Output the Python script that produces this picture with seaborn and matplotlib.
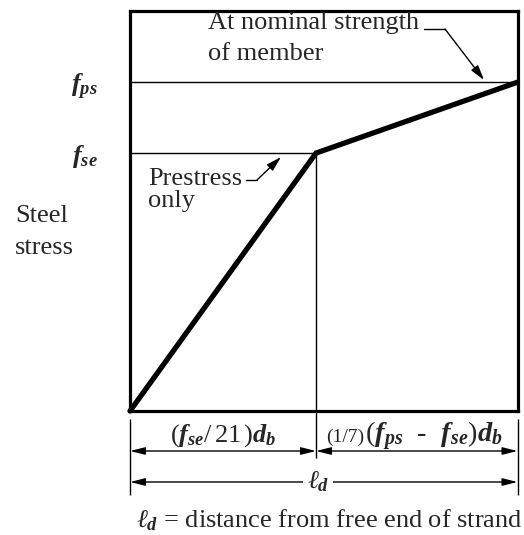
import matplotlib
matplotlib.use("Agg")
import matplotlib.pyplot as plt
import seaborn as sns
import pandas as pd

# Idealized steel stress along a pretensioned strand (fraction of development length)
stage = ["Free end", "Prestress only", "Nominal strength"]
distance = [0.0, 0.48, 1.0]
stress = [0.0, 0.644, 0.821]
stress_labels = [r"$\mathbfit{f_{se}}$", r"$\mathbfit{f_{ps}}$"]
df = pd.DataFrame({"stage": stage, "distance": distance, "stress": stress})

sns.set_style("white")
plt.rcParams["font.family"] = ["Liberation Serif", "DejaVu Serif"]
plt.rcParams["mathtext.fontset"] = "custom"
plt.rcParams["mathtext.rm"] = "Liberation Serif"
plt.rcParams["mathtext.it"] = "Liberation Serif:italic"
plt.rcParams["mathtext.bf"] = "Liberation Serif:bold"
plt.rcParams["mathtext.bfit"] = "Liberation Serif:italic:bold"
plt.rcParams["mathtext.fallback"] = "stix"

W, H = 524, 535
fig = plt.figure(figsize=(W / 100, H / 100), dpi=100)
L, R, T, B = 130, 517.5, 10.5, 411
ax = fig.add_axes([L / W, 1 - B / H, (R - L) / W, (B - T) / H])


def px(x, y):
    """Pixel position to data coordinates of the plot box."""
    return ((x - L) / (R - L), (B - y) / (B - T))


def lines(x, baselines, texts, **kw):
    """Write one text per line, each on its own baseline."""
    for yb, s in zip(baselines, texts):
        ax.text(*px(x, yb), s, fontsize=19, ha="left", va="baseline", **kw)


sns.lineplot(data=df, x="distance", y="stress", ax=ax, color="black",
             linewidth=3.8, solid_joinstyle="miter", clip_on=False, zorder=5)
ax.set_xlim(0, 1)
ax.set_ylim(0, 1)
ax.set_xlabel("")
ax.set_ylabel("")
for s in ax.spines.values():
    s.set_linewidth(2.3)
    s.set_color("black")

# stress levels as y ticks with long outward tick marks
fse, fps = stress[1], stress[2]
xb = distance[1]
ax.set_xticks([])
ax.set_yticks([fse, fps])
ax.set_yticklabels(stress_labels, fontsize=19)
ax.tick_params(axis="y", direction="out", length=15, width=1.0, pad=8, color="black")
ax.hlines(fse, 0, xb, color="black", lw=1.0, zorder=3)
ax.hlines(fps, 0, 1, color="black", lw=1.0, zorder=3)
ax.vlines(xb, px(0, 458)[1], fse, color="black", lw=1.0, clip_on=False, zorder=3)

# y-axis caption
lines(15, [222, 254], ["Steel", "stress"])

# annotations
head = dict(arrowstyle="-|>,head_length=0.6,head_width=0.17",
            mutation_scale=15, lw=1.0, color="black", shrinkA=0, shrinkB=0)
lines(208, [28.5, 60], ["At nominal strength", "of member"])
ax.plot(*zip(px(424, 29), px(445, 29)), color="black", lw=1.0, clip_on=False)
ax.annotate("", xy=px(484, 80), xytext=px(445, 29), arrowprops=head)

lines(148, [185, 207], ["Prestress", "only"])
ax.plot(*zip(px(246, 180), px(257, 180)), color="black", lw=1.0, clip_on=False)
ax.annotate("", xy=px(281, 157), xytext=px(257, 180), arrowprops=head)

# dimension lines below the plot
y_top, y_bot = px(0, 419)[1], px(0, 495)[1]
ax.vlines([0, 1], y_bot, y_top, color="black", lw=1.0, clip_on=False)
dim = dict(arrowstyle="<|-|>,head_length=0.6,head_width=0.15",
           mutation_scale=15, lw=1.0, color="black", shrinkA=0, shrinkB=0)
y1 = px(0, 451)[1]
y2 = px(0, 482)[1]
ax.annotate("", xy=(0, y1), xytext=(xb, y1), arrowprops=dim, annotation_clip=False)
ax.annotate("", xy=(xb, y1), xytext=(1, y1), arrowprops=dim, annotation_clip=False)
ax.annotate("", xy=(0, y2), xytext=(1, y2), arrowprops=dim, annotation_clip=False)

yl = px(0, 442)[1]
ax.text(xb / 2, yl,
        r"$\mathrm{(}\mathbfit{f_{se}}\mathrm{/\,}\mathrm{21\,)}\mathbfit{d_b}$",
        fontsize=19, ha="center", va="baseline")
ax.text(px(364, 0)[0], yl, "(1/7)", fontsize=14, ha="right", va="baseline")
ax.text(px(365, 0)[0], yl,
        "(" + r"$\mathbfit{f_{ps}}$" + "  -  " + r"$\mathbfit{f_{se}}$" + ")"
        + r"$\mathbfit{d_b}$",
        fontsize=20.5, ha="left", va="baseline")
ax.text(px(318, 0)[0], y2, r"$\mathit{\ell}_{\mathbfit{d}}$", fontsize=19,
        ha="center", va="center",
        bbox=dict(facecolor="white", edgecolor="none", pad=3))

ax.text(*px(136, 527), r"$\mathit{\ell}_{\mathbfit{d}}$" + " = distance from free end of strand",
        fontsize=19, ha="left", va="baseline")

fig.savefig("out.png", dpi=100)
